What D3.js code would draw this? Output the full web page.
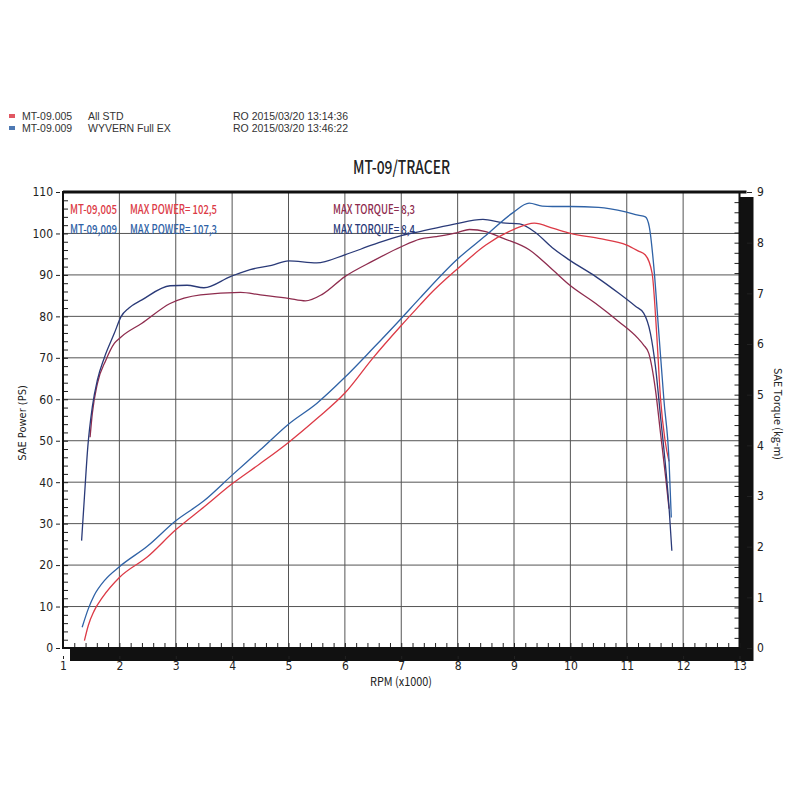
<!DOCTYPE html>
<html><head><meta charset="utf-8">
<script src="https://cdn.jsdelivr.net/npm/d3@7"></script>
<style>
html,body{margin:0;padding:0;background:#fff;}
svg{display:block;}
.cond{font-family:"Liberation Sans Narrow","DejaVu Sans Condensed","Roboto Condensed","Liberation Sans",sans-serif;font-stretch:condensed;}
.goth{font-family:"Noto Sans CJK JP","DejaVu Sans Mono",monospace;}
</style>
</head><body>
<svg id="c" width="800" height="800"></svg>
<script>
// ---- data ----
const rpmTicks = [1,2,3,4,5,6,7,8,9,10,11,12,13];
const powerTicks = [0,10,20,30,40,50,60,70,80,90,100,110];
const torqueTicks = [0,1,2,3,4,5,6,7,8,9];

const seriesNames = ["MT-09.005","MT-09.009"];
const seriesDesc = ["All STD","WYVERN Full EX"];
const seriesStamp = ["RO  2015/03/20 13:14:36","RO  2015/03/20 13:46:22"];
const maxPowerLabels = ["MT-09,005","MT-09,009"];
const maxPower = ["102,5","107,3"];
const maxTorque = ["8,3","8,4"];

// power (PS) – STD (red)
const powerStdRpm = [1.38,1.45,1.55,1.7,2.0,2.5,3.0,3.5,4.0,4.5,5.0,5.5,6.0,6.5,7.0,7.33,7.5,8.0,8.5,9.0,9.36,9.7,10.0,10.5,11.0,11.2,11.33,11.45,11.53,11.6,11.68,11.75];
const powerStd    = [1.8,5.5,8.9,12.2,17.0,22.0,28.5,34.0,39.6,44.5,49.6,55.3,61.5,70.0,77.8,82.7,85.2,91.5,97.2,101.0,102.5,101.2,100.0,98.8,97.2,95.8,94.8,90.4,76.0,60.0,50.0,45.0];
// power (PS) – WYVERN (blue)
const powerExRpm = [1.34,1.45,1.55,1.75,2.0,2.5,3.0,3.5,4.0,4.5,5.0,5.5,6.0,6.5,7.0,7.33,7.98,8.5,8.97,9.27,9.5,9.68,10.0,10.5,10.98,11.2,11.33,11.4,11.48,11.57,11.66,11.75,11.79];
const powerEx    = [5.0,9.5,12.6,16.5,19.6,24.6,30.7,35.5,41.7,47.8,54.0,59.0,65.3,72.3,79.5,84.4,93.6,99.5,104.9,107.3,106.6,106.5,106.5,106.3,105.2,104.4,104.0,101.6,92.0,75.8,59.7,45.2,31.5];
// torque (kg-m) – STD
const torqueStdRpm = [1.48,1.52,1.61,1.76,1.91,2.03,2.4,2.9,3.44,4.15,4.5,5.0,5.3,5.6,6.0,6.5,7.0,7.33,7.62,8.0,8.21,8.5,8.8,9.27,9.68,9.98,10.45,10.86,11.2,11.3,11.39,11.51,11.6,11.69,11.75];
const torqueStd    = [4.16,4.63,5.22,5.68,6.01,6.14,6.41,6.8,6.97,7.02,6.97,6.9,6.85,6.98,7.33,7.64,7.92,8.07,8.12,8.2,8.26,8.22,8.09,7.86,7.47,7.17,6.8,6.44,6.11,5.98,5.82,5.09,4.23,3.37,2.75];
// torque (kg-m) – WYVERN
const torqueExRpm = [1.33,1.38,1.44,1.52,1.61,1.73,1.91,2.03,2.17,2.4,2.9,3.2,3.5,3.97,4.32,4.7,5.0,5.5,6.0,6.5,7.0,7.33,7.92,8.45,8.8,9.1,9.39,9.68,9.98,10.45,10.86,11.16,11.3,11.42,11.51,11.6,11.69,11.75,11.8];
const torqueEx    = [2.12,2.98,3.97,4.76,5.29,5.72,6.21,6.54,6.71,6.87,7.15,7.16,7.11,7.33,7.47,7.55,7.64,7.6,7.76,7.96,8.14,8.22,8.36,8.46,8.39,8.37,8.19,7.9,7.66,7.33,7.0,6.74,6.61,6.21,5.55,4.56,3.57,2.78,1.92];

const colPowerStd = "#dc3a46", colPowerEx = "#2f62a6", colTorqueStd = "#8e2c4e", colTorqueEx = "#2a3a78";

// ---- layout ----
const svg = d3.select("#c");
const L = 63, R = 739.5, T = 192, B = 648;
const x = d3.scaleLinear().domain([1,13]).range([L,R]);
const yP = d3.scaleLinear().domain([0,110]).range([B,T]);
const yT = d3.scaleLinear().domain([0,9]).range([B,T]);

// header legend
const legCols = [colPowerStd, colPowerEx];
seriesNames.forEach((n,i)=>{
  const yb = 120 + i*12;
  svg.append("rect").attr("x",9).attr("y",yb-6).attr("width",6).attr("height",4).attr("fill",legCols[i]).attr("opacity",0.85);
  const g = svg.append("g").attr("font-family","Liberation Sans, Arial, sans-serif").attr("font-size",10.5).attr("fill","#333");
  g.append("text").attr("x",22).attr("y",yb).text(n);
  g.append("text").attr("x",88).attr("y",yb).text(seriesDesc[i]);
  g.append("text").attr("x",233).attr("y",yb).text(seriesStamp[i]);
});

// title
svg.append("text").attr("class","goth").attr("x",353).attr("y",174).attr("font-size",18).attr("font-weight",500)
  .attr("textLength",97).attr("lengthAdjust","spacingAndGlyphs").attr("fill","#222").text("MT-09/TRACER");

// shadow frame
svg.append("rect").attr("x",L+7).attr("y",T+5).attr("width",R-L+7).attr("height",B-T+8).attr("fill","#111");
svg.append("rect").attr("x",L).attr("y",T).attr("width",R-L).attr("height",B-T).attr("fill","#fff");

// grid
const grid = svg.append("g").attr("stroke","#555").attr("stroke-width",1);
grid.selectAll("line.v").data(rpmTicks.slice(1,-1)).join("line")
  .attr("x1",d=>x(d)).attr("x2",d=>x(d)).attr("y1",T).attr("y2",B);
grid.selectAll("line.h").data(powerTicks.slice(1,-1)).join("line")
  .attr("y1",d=>yP(d)).attr("y2",d=>yP(d)).attr("x1",L).attr("x2",R);

// inner minor ticks
const minorP = d3.range(0,110.01,2);
const minorT = d3.range(0,9.001,0.2);
const minorX = d3.range(1,13.001,0.2);
svg.append("g").attr("transform",`translate(${L},0)`)
  .call(d3.axisRight(yP).tickValues(minorP).tickSize(5).tickFormat(""))
  .call(g=>g.select(".domain").remove()).selectAll("line").attr("stroke","#222");
svg.append("g").attr("transform",`translate(${R},0)`)
  .call(d3.axisLeft(yT).tickValues(minorT).tickSize(5).tickFormat(""))
  .call(g=>g.select(".domain").remove()).selectAll("line").attr("stroke","#222");
svg.append("g").attr("transform",`translate(0,${B})`)
  .call(d3.axisTop(x).tickValues(minorX).tickSize(5).tickFormat(""))
  .call(g=>g.select(".domain").remove()).selectAll("line").attr("stroke","#222");

// plot border
svg.append("rect").attr("x",L).attr("y",T).attr("width",R-L).attr("height",B-T)
  .attr("fill","none").attr("stroke","#111").attr("stroke-width",2);
svg.append("line").attr("x1",L).attr("x2",R+7).attr("y1",T).attr("y2",T).attr("stroke","#111").attr("stroke-width",3);

// curves
const line = d3.line().x(d=>x(d[0])).curve(d3.curveMonotoneX);
function draw(rpm, vals, ys, col){
  const pts = rpm.map((r,i)=>[r, vals[i]]);
  svg.append("path").datum(pts).attr("fill","none").attr("stroke",col).attr("stroke-width",1.3)
    .attr("d", line.y(d=>ys(d[1])));
}
draw(torqueStdRpm, torqueStd, yT, colTorqueStd);
draw(torqueExRpm, torqueEx, yT, colTorqueEx);
draw(powerStdRpm, powerStd, yP, colPowerStd);
draw(powerExRpm, powerEx, yP, colPowerEx);

// annotations
const annPCol = [colPowerStd, colPowerEx];
const annTCol = [colTorqueStd, colTorqueEx];
maxPowerLabels.forEach((lab,i)=>{
  const yb = 214 + i*20;
  const g = svg.append("g").attr("class","goth").attr("font-size",12.5).attr("font-weight",500);
  g.append("text").attr("x",70).attr("y",yb).attr("fill",annPCol[i]).attr("textLength",47).attr("lengthAdjust","spacingAndGlyphs").text(lab);
  g.append("text").attr("x",130).attr("y",yb).attr("fill",annPCol[i]).attr("textLength",87).attr("lengthAdjust","spacingAndGlyphs").text("MAX POWER= "+maxPower[i]);
  g.append("text").attr("x",333).attr("y",yb).attr("fill",annTCol[i]).attr("textLength",82).attr("lengthAdjust","spacingAndGlyphs").text("MAX TORQUE= "+maxTorque[i]);
});

// outer axes
svg.append("g").attr("class","cond").attr("transform",`translate(60,0)`)
  .call(d3.axisLeft(yP).tickValues(powerTicks).tickSize(4).tickPadding(3))
  .call(g=>g.select(".domain").remove())
  .call(g=>g.selectAll("text").attr("font-size",12).attr("fill","#222").attr("font-family",null))
  .call(g=>g.selectAll("line").attr("stroke","#222"));
svg.append("g").attr("class","cond").attr("transform",`translate(747,0)`)
  .call(d3.axisRight(yT).tickValues(torqueTicks).tickSize(5).tickPadding(5))
  .call(g=>g.select(".domain").remove())
  .call(g=>g.selectAll("text").attr("font-size",12).attr("fill","#222").attr("font-family",null))
  .call(g=>g.selectAll("line").attr("stroke","#222"));
svg.append("g").attr("class","cond").attr("transform",`translate(0,656)`)
  .call(d3.axisBottom(x).tickValues(rpmTicks).tickSize(3).tickPadding(2))
  .call(g=>g.select(".domain").remove())
  .call(g=>g.selectAll("text").attr("font-size",12).attr("fill","#222").attr("font-family",null))
  .call(g=>g.selectAll("line").attr("stroke","#222"));

// axis titles
svg.append("text").attr("class","goth").attr("x",401).attr("y",686).attr("text-anchor","middle")
  .attr("font-size",12).attr("fill","#222").attr("textLength",62).attr("lengthAdjust","spacingAndGlyphs").text("RPM (x1000)");
svg.append("text").attr("class","cond").attr("transform","translate(26,423) rotate(-90)").attr("text-anchor","middle")
  .attr("font-size",11).attr("fill","#222").text("SAE Power (PS)");
svg.append("text").attr("class","goth").attr("transform","translate(774,414) rotate(90)").attr("text-anchor","middle")
  .attr("font-size",11).attr("fill","#222").attr("textLength",92).attr("lengthAdjust","spacingAndGlyphs").text("SAE Torque (kg-m)");
</script>
</body></html>
